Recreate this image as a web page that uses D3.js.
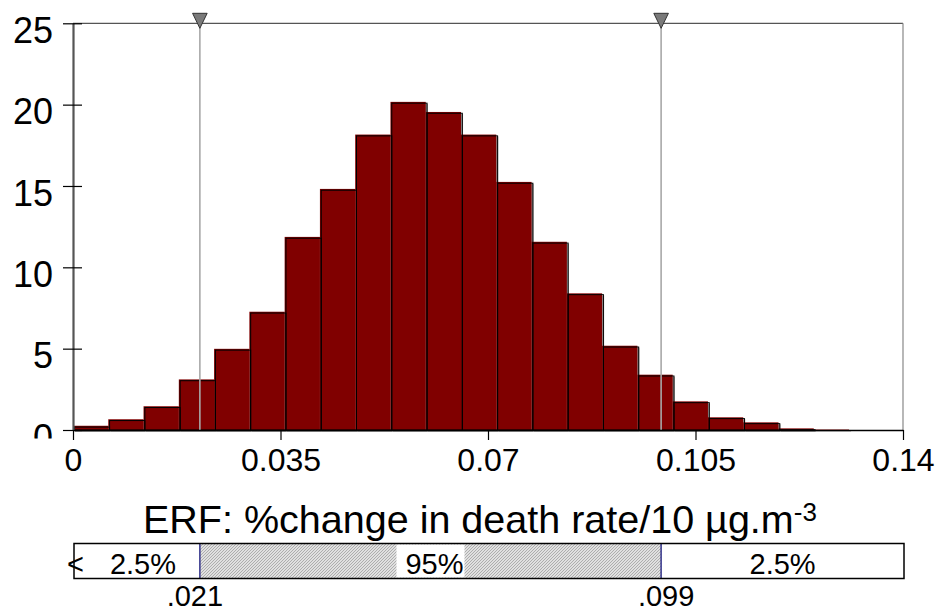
<!DOCTYPE html>
<html>
<head>
<meta charset="utf-8">
<script src="https://cdn.jsdelivr.net/npm/d3@7"></script>
<style>
  body { margin: 0; background: #fff; }
  text { font-family: "Liberation Sans", Arial, sans-serif; fill: #000; }
</style>
</head>
<body>
<div class="erf-plot"></div>
<script>
// histogram of the ERF distribution (density per bin)
const binEdges = [0, 0.00595, 0.0119, 0.01785, 0.0238, 0.02975, 0.0357, 0.04165, 0.0476,
  0.05355, 0.0595, 0.06545, 0.0714, 0.07735, 0.0833, 0.08925, 0.0952, 0.10115, 0.1071,
  0.11305, 0.119, 0.12495, 0.1309];
const density = [0.26, 0.66, 1.46, 3.11, 4.99, 7.27, 11.87, 14.82, 18.16, 20.17, 19.55,
  18.16, 15.25, 11.57, 8.40, 5.18, 3.40, 1.76, 0.78, 0.47, 0.10, 0.03];

const xTicks = [0, 0.035, 0.07, 0.105, 0.14];
const xTickLabels = ['0', '0.035', '0.07', '0.105', '0.14'];
const yTicks = [0, 5, 10, 15, 20, 25];

const percentiles = [0.0214, 0.0992];
const percentileLabels = ['.021', '.099'];
const bandLabels = ['2.5%', '95%', '2.5%'];

const titleText = 'ERF: %change in death rate/10 \u00b5g.m';
const titleSup = '-3';

const width = 939;
const height = 612;

const svg = d3.select('.erf-plot')
    .append('svg')
    .attr('width', width)
    .attr('height', height);

const x = d3.scaleLinear().domain([0, 0.14]).range([73, 903]);
const y = d3.scaleLinear().domain([0, 25]).range([430, 23.3]);

const defs = svg.append('defs');
// the "0" on the y axis is cut off in the original
defs.append('clipPath').attr('id', 'zclip')
    .append('rect').attr('x', -80).attr('y', -40).attr('width', 80).attr('height', 48);

const hatch = defs.append('pattern')
    .attr('id', 'hatch')
    .attr('patternUnits', 'userSpaceOnUse')
    .attr('width', 3).attr('height', 3);
hatch.append('rect').attr('width', 3).attr('height', 3).attr('fill', '#e0e0e0');
hatch.append('path').attr('d', 'M-1,1 L1,-1 M0,3 L3,0 M2,4 L4,2')
    .attr('stroke', '#a0a0a0').attr('stroke-width', 0.8);

const bins = density.map((d, i) => ({x0: binEdges[i], x1: binEdges[i + 1], v: d}));

// frame (top and right)
svg.append('line')
    .attr('x1', x(0)).attr('x2', x(0.14))
    .attr('y1', y(25)).attr('y2', y(25))
    .attr('stroke', '#555').attr('stroke-width', 1.2);
svg.append('line')
    .attr('x1', x(0.14)).attr('x2', x(0.14))
    .attr('y1', y(25)).attr('y2', y(0))
    .attr('stroke', '#888').attr('stroke-width', 1.2);

// bars: shadow, fill, offset outline
svg.selectAll('rect.shadow')
    .data(bins)
    .enter()
    .append('rect')
    .attr('class', 'shadow')
    .attr('x', d => x(d.x0) + 2)
    .attr('y', d => y(d.v) + 2)
    .attr('width', d => x(d.x1) - x(d.x0))
    .attr('height', d => y(0) - y(d.v))
    .attr('fill', '#9a9a9a');

svg.selectAll('rect.bar')
    .data(bins)
    .enter()
    .append('rect')
    .attr('class', 'bar')
    .attr('x', d => x(d.x0))
    .attr('y', d => y(d.v))
    .attr('width', d => x(d.x1) - x(d.x0))
    .attr('height', d => y(0) - y(d.v))
    .attr('fill', '#800000');

svg.selectAll('rect.edge')
    .data(bins)
    .enter()
    .append('rect')
    .attr('class', 'edge')
    .attr('x', d => x(d.x0) + 1.3)
    .attr('y', d => y(d.v) + 1.3)
    .attr('width', d => x(d.x1) - x(d.x0))
    .attr('height', d => Math.max(0, y(0) - y(d.v) - 1.3))
    .attr('fill', 'none')
    .attr('stroke', '#000')
    .attr('stroke-width', 1);

// percentile lines + markers
svg.selectAll('line.pct')
    .data(percentiles)
    .enter()
    .append('line')
    .attr('class', 'pct')
    .attr('x1', d => x(d)).attr('x2', d => x(d))
    .attr('y1', y(25)).attr('y2', y(0))
    .attr('stroke', '#a8a8a8')
    .attr('stroke-width', 1.6);

svg.selectAll('path.marker')
    .data(percentiles)
    .enter()
    .append('path')
    .attr('class', 'marker')
    .attr('d', d => `M${x(d) - 7.3},13.3 L${x(d) + 7.3},13.3 L${x(d)},28.3 Z`)
    .attr('fill', '#7a7a7a')
    .attr('stroke', '#333')
    .attr('stroke-width', 1);

// x axis
const xAxis = svg.append('g')
    .attr('transform', `translate(0,${y(0)})`)
    .call(d3.axisBottom(x).tickValues(xTicks).tickSize(10).tickSizeOuter(0)
        .tickFormat((d, i) => xTickLabels[i]));
xAxis.select('.domain').attr('stroke', '#000').attr('stroke-width', 1.6);
xAxis.selectAll('.tick line').attr('stroke', '#000').attr('stroke-width', 1.2);
xAxis.selectAll('.tick text')
    .attr('y', 41).attr('dy', 0)
    .attr('font-size', 32)
    .attr('font-family', '"Liberation Sans", Arial, sans-serif')
    .attr('fill', '#000');

// y axis
const yAxis = svg.append('g')
    .attr('transform', `translate(${x(0)},0)`)
    .call(d3.axisLeft(y).tickValues(yTicks).tickSizeOuter(0));
yAxis.select('.domain').attr('stroke', '#555').attr('stroke-width', 2.2);
yAxis.selectAll('.tick line')
    .attr('x1', -10).attr('x2', 9)
    .attr('stroke', '#000').attr('stroke-width', 1.2);
yAxis.selectAll('.tick text')
    .attr('x', -20).attr('dy', 19.3)
    .attr('font-size', 36)
    .attr('font-family', '"Liberation Sans", Arial, sans-serif')
    .attr('fill', '#000');
yAxis.selectAll('.tick').filter(d => d === 0).select('text')
    .attr('clip-path', 'url(#zclip)');

// title
const title = svg.append('text')
    .attr('x', 143)
    .attr('y', 533)
    .attr('font-size', 39.5);
title.append('tspan').text(titleText);
title.append('tspan')
    .attr('font-size', 26)
    .attr('dy', -12)
    .text(titleSup);

// percentile band
const bandTop = 543.5;
const bandH = 35;
const bandX0 = x(0) + 1;
const bandX1 = x(0.14) + 1;

svg.append('rect')
    .attr('x', bandX0).attr('y', bandTop)
    .attr('width', bandX1 - bandX0).attr('height', bandH)
    .attr('fill', '#fff');
svg.append('rect')
    .attr('x', x(percentiles[0])).attr('y', bandTop)
    .attr('width', x(percentiles[1]) - x(percentiles[0])).attr('height', bandH)
    .attr('fill', 'url(#hatch)');

const midX = (x(percentiles[0]) + x(percentiles[1])) / 2;
svg.append('rect')
    .attr('x', midX - 34).attr('y', bandTop + 1)
    .attr('width', 68).attr('height', bandH - 2)
    .attr('fill', '#fff');

svg.selectAll('line.bandpct')
    .data(percentiles)
    .enter()
    .append('line')
    .attr('class', 'bandpct')
    .attr('x1', d => x(d)).attr('x2', d => x(d))
    .attr('y1', bandTop).attr('y2', bandTop + bandH)
    .attr('stroke', '#33338a')
    .attr('stroke-width', 1.5);

svg.append('rect')
    .attr('x', bandX0).attr('y', bandTop)
    .attr('width', bandX1 - bandX0).attr('height', bandH)
    .attr('fill', 'none')
    .attr('stroke', '#000')
    .attr('stroke-width', 1.5);

const bandCenters = [
    (bandX0 + x(percentiles[0])) / 2 + 6,
    midX + 4,
    (x(percentiles[1]) + bandX1) / 2
];
svg.selectAll('text.band')
    .data(bandLabels)
    .enter()
    .append('text')
    .attr('class', 'band')
    .attr('x', (d, i) => bandCenters[i])
    .attr('y', 574.3)
    .attr('text-anchor', 'middle')
    .attr('font-size', 29)
    .text(d => d);

svg.append('text')
    .attr('x', 67)
    .attr('y', 574.3)
    .attr('font-size', 29)
    .text('<');

const pctOffsets = [-5, 5];
svg.selectAll('text.pctlabel')
    .data(percentileLabels)
    .enter()
    .append('text')
    .attr('class', 'pctlabel')
    .attr('x', (d, i) => x(percentiles[i]) + pctOffsets[i])
    .attr('y', 605.5)
    .attr('text-anchor', 'middle')
    .attr('font-size', 29)
    .text(d => d);
</script>
</body>
</html>
